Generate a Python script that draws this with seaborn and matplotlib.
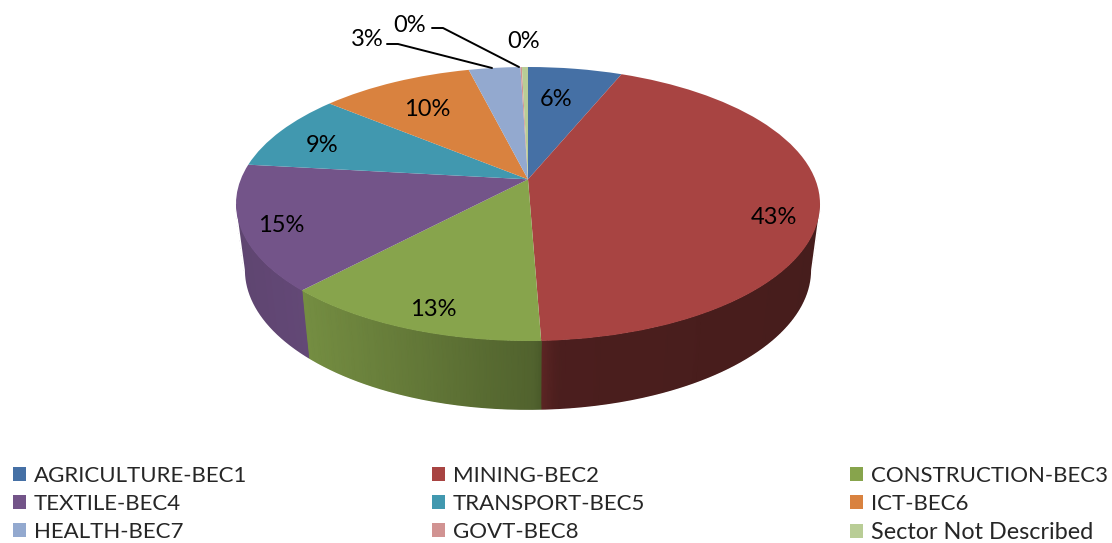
import numpy as np
import matplotlib
matplotlib.use('Agg')
import matplotlib.pyplot as plt
from matplotlib.colors import LinearSegmentedColormap
from matplotlib.transforms import Transform
import seaborn as sns

sectors = ['AGRICULTURE-BEC1', 'MINING-BEC2', 'CONSTRUCTION-BEC3',
           'TEXTILE-BEC4', 'TRANSPORT-BEC5', 'ICT-BEC6',
           'HEALTH-BEC7', 'GOVT-BEC8', 'Sector Not Described']
shares = [6.2, 43.2, 12.6, 14.8, 9.2, 10.1, 3.4, 0.1, 0.4]
colors = ['#4570a5', '#a84442', '#87a44c', '#735489', '#4198af',
          '#d9823f', '#93a9cf', '#d19392', '#b9cd96']

sns.set_theme(style='white')
plt.rcParams['font.family'] = ['Lato', 'DejaVu Sans']

# pie is a tilted circle, so the apex sits above the middle of the ellipse
tilt = 0.18
cx, cy, rx, ry = 528, 204, 292, 137
low_cx, low_cy, low_rx, low_ry = 528, 270, 283, 140


def project(x, y):
    d = 1 + tilt * y
    return x * np.sqrt(1 - tilt ** 2) / d, (y + tilt) / d


class TiltedPie(Transform):
    input_dims = 2
    output_dims = 2

    def transform_non_affine(self, values):
        u, v = project(values[:, 0], values[:, 1])
        return np.column_stack([cx + rx * u, cy - ry * v])


def wall_shade(u):
    return np.interp(u, [-1, -0.77, 0.02, 0.1, 1], [0.82, 0.86, 0.60, 0.45, 0.42])


def rim(t):
    u, v = project(np.sin(t), np.cos(t))
    return u, v, cx + rx * u, cy - ry * v, low_cx + low_rx * u, low_cy - low_ry * v


fig, ax = plt.subplots(figsize=(11.12, 5.43), dpi=100)
ax.set_position([0, 0, 1, 1])

wedges, _ = ax.pie(shares, colors=colors, startangle=90, counterclock=False,
                   wedgeprops={'edgecolor': 'none', 'zorder': 3})
ax.set_aspect('auto')
ax.set_xlim(0, 1112)
ax.set_ylim(543, 0)
ax.axis('off')
for w in wedges:
    w.set_transform(TiltedPie() + ax.transData)

# side wall, one smooth shaded mesh for each slice along the front of the rim
edges = np.concatenate([[0], np.cumsum(shares) / np.sum(shares) * 2 * np.pi])
start = np.arccos(-tilt)
stop = 2 * np.pi - start
for i, c in enumerate(colors):
    t0, t1 = max(edges[i], start), min(edges[i + 1], stop)
    if t1 <= t0:
        continue
    t = np.linspace(t0, t1, 80)
    u, v, top_x, top_y, low_x, low_y = rim(t)
    shade = wall_shade(u)
    cmap = LinearSegmentedColormap.from_list('wall', ['black', c])
    ax.pcolormesh(np.vstack([top_x, low_x]), np.vstack([top_y, low_y]),
                  np.vstack([shade, shade]), cmap=cmap, vmin=0, vmax=1,
                  shading='gouraud', zorder=2)

# soften the stair steps the mesh leaves on its outer edge, line sits just outside it
t = np.linspace(start, stop, 300)
u, v, top_x, top_y, low_x, low_y = rim(t)
outline_x = np.concatenate([[top_x[0]], low_x, [top_x[-1]]])
outline_y = np.concatenate([[top_y[0]], low_y, [top_y[-1]]])
outline_x = low_cx + (outline_x - low_cx) * (1 + 1.0 / low_rx)
outline_y = low_cy + (outline_y - low_cy) * (1 + 0.8 / low_ry)
ax.plot(outline_x, outline_y, color='white', lw=1.3, zorder=2.5)

pct_labels = ['{:.0f}%'.format(np.floor(s + 0.5)) for s in shares]
label_x = [556, 774, 433, 281, 322, 427, 367, 410, 524]
label_y = [99, 217, 309, 225, 145, 110, 40, 26, 41]
for txt, x, y in zip(pct_labels, label_x, label_y):
    ax.text(x, y, txt, ha='center', va='center', fontsize=17, color='black', zorder=5)

ax.plot([387, 398, 492], [44, 44, 68], color='black', lw=1.4, zorder=4)
ax.plot([432, 443, 519], [28, 28, 67], color='black', lw=1.4, zorder=4)

# one legend per column so the columns stay where they are in the chart
for n, left in enumerate([13, 432, 850]):
    leg = fig.legend(wedges[n::3], sectors[n::3], loc='upper left',
                     bbox_to_anchor=(left / 1112, 1 - 466 / 543),
                     frameon=False, fontsize=16, borderpad=0, borderaxespad=0,
                     handlelength=0.6, handleheight=0.6, handletextpad=0.33,
                     labelspacing=0.36)
leg.get_texts()[-1].set_fontsize(16.8)

fig.savefig('out.png', dpi=100)
